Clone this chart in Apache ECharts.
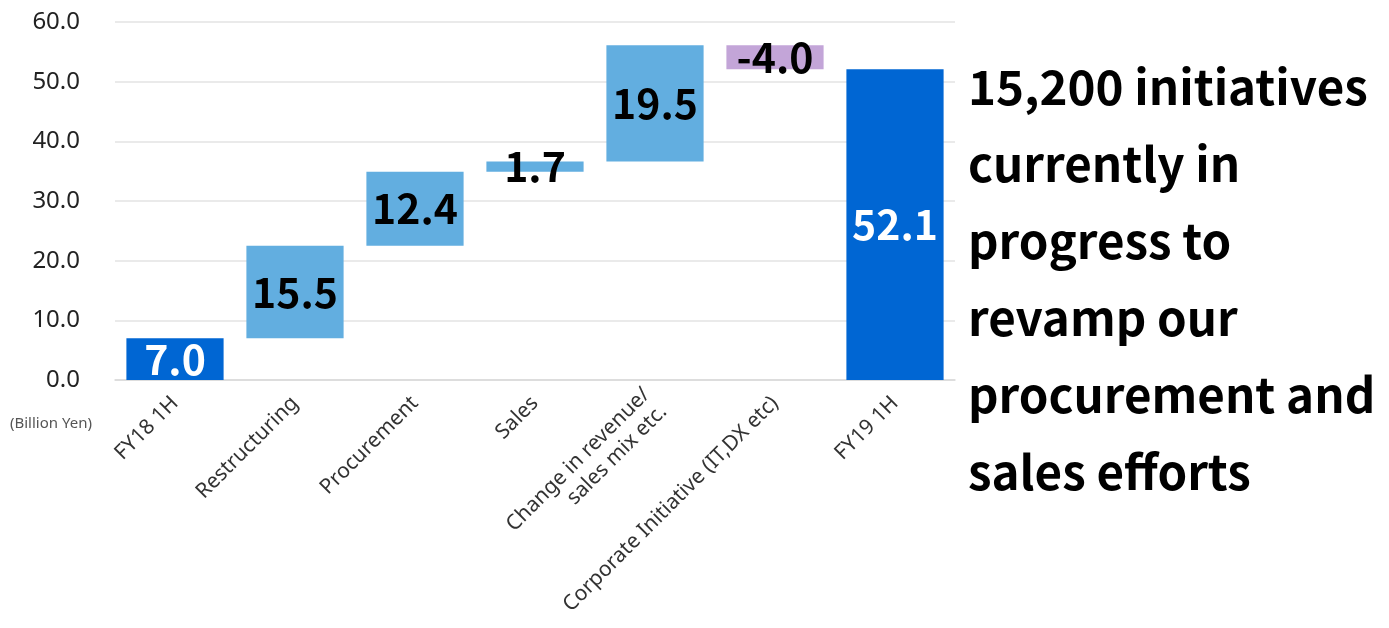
<!DOCTYPE html>
<html>
<head>
<meta charset="utf-8">
<script src="https://cdn.jsdelivr.net/npm/echarts@6/dist/echarts.min.js"></script>
<style>
  html, body { margin: 0; padding: 0; background: #fff; }
  #chart { width: 1389px; height: 628px; }
</style>
</head>
<body>
<div id="chart"></div>
<script>
// 营业利益改善 waterfall
const categories = ['FY18 1H', 'Restructuring', 'Procurement', 'Sales', 'Change in revenue/\nsales mix etc.', 'Corporate Initiative (IT,DX etc)', 'FY19 1H']
const values = [7.0, 15.5, 12.4, 1.7, 19.5, -4.0, 52.1]
const yTicks = [0, 10, 20, 30, 40, 50, 60]
const noteLines = ['15,200 initiatives', 'currently in', 'progress to', 'revamp our', 'procurement and', 'sales efforts']

const TOTAL = '#0066D3'
const UP = '#62AEE0'
const DOWN = '#C3A5D8'

// 计算透明底座
let baseData = []
let barData = []
let cum = 0
for (let i = 0; i < values.length; i++) {
  let v = values[i]
  let isTotal = i == 0 || i == values.length - 1
  if (isTotal) {
    baseData.push(0)
    cum = v
  } else if (v >= 0) {
    baseData.push(cum)
    cum += v
  } else {
    cum += v
    baseData.push(cum)
  }
  barData.push({
    value: Math.abs(v),
    raw: v,
    itemStyle: { color: isTotal ? TOTAL : (v >= 0 ? UP : DOWN) },
    label: { color: isTotal ? '#fff' : '#000' }
  })
}

let myChart = echarts.init(document.getElementById('chart'))
let option = {
  animation: false,
  grid: {
    left: 115,
    right: 434,
    top: 22,
    bottom: 248
  },
  xAxis: {
    type: 'category',
    data: categories,
    axisLine: { lineStyle: { color: '#d9d9d9', width: 1.5 } },
    axisTick: { show: false },
    axisLabel: {
      interval: 0,
      rotate: 45,
      margin: 20,
      fontSize: 21,
      color: '#333',
      fontFamily: 'Noto Sans',
      lineHeight: 24
    }
  },
  yAxis: {
    type: 'value',
    min: yTicks[0],
    max: yTicks[yTicks.length - 1],
    interval: 10,
    axisLine: { show: false },
    axisTick: { show: false },
    splitLine: { lineStyle: { color: '#e3e3e3', width: 1.5 } },
    axisLabel: {
      margin: 35,
      fontSize: 24,
      color: '#222',
      fontFamily: 'Noto Sans',
      formatter: function (v) { return v.toFixed(1) }
    }
  },
  series: [
    {
      type: 'bar',
      stack: 'w',
      data: baseData,
      itemStyle: { color: 'transparent' },
      silent: true
    },
    {
      type: 'bar',
      stack: 'w',
      barCategoryGap: '19%',
      data: barData,
      label: {
        show: true,
        position: 'inside',
        fontSize: 41,
        fontWeight: 'bold',
        fontFamily: 'Noto Sans CJK JP',
        formatter: function (p) { return p.data.raw.toFixed(1) }
      }
    }
  ],
  graphic: [
    {
      type: 'text',
      left: 10,
      top: 416,
      style: {
        text: '(Billion Yen)',
        fontSize: 15,
        fill: '#555',
        fontFamily: 'Noto Sans'
      }
    },
    {
      type: 'text',
      left: 968,
      top: 48,
      style: {
        text: noteLines.join('\n'),
        fontSize: 47.5,
        lineHeight: 77,
        fontWeight: 'bold',
        fill: '#000',
        fontFamily: 'Noto Sans CJK JP'
      }
    }
  ]
}
myChart.setOption(option)
</script>
</body>
</html>
